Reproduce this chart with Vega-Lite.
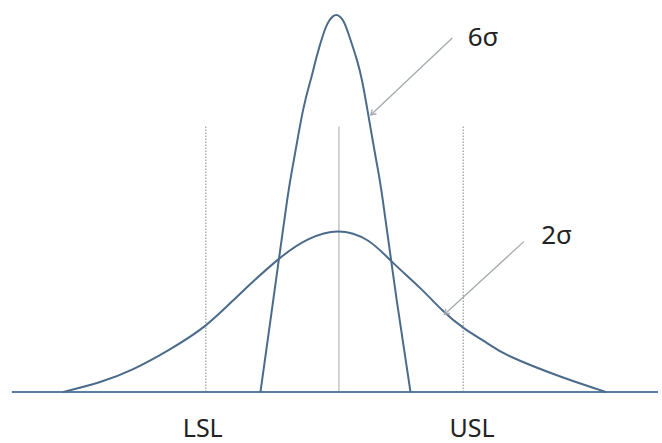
{
  "$schema": "https://vega.github.io/schema/vega-lite/v6.json",
  "width": 662,
  "height": 443,
  "autosize": {"type": "fit", "contains": "padding"},
  "padding": 0,
  "background": "white",
  "config": {"view": {"stroke": null}},
  "datasets": {
    "baseline": [{"x": -7.48, "y": 0}, {"x": 7.295, "y": 0}],
    "narrow": [
      {"curve": "6σ", "x": -1.795, "y": 0},
      {"curve": "6σ", "x": -1.5, "y": 0.246},
      {"curve": "6σ", "x": -1.182, "y": 0.511},
      {"curve": "6σ", "x": -1.03, "y": 0.616},
      {"curve": "6σ", "x": -0.818, "y": 0.749},
      {"curve": "6σ", "x": -0.636, "y": 0.832},
      {"curve": "6σ", "x": -0.52, "y": 0.885},
      {"curve": "6σ", "x": -0.364, "y": 0.947},
      {"curve": "6σ", "x": -0.227, "y": 0.984},
      {"curve": "6σ", "x": -0.06, "y": 1.0},
      {"curve": "6σ", "x": 0.1, "y": 0.984},
      {"curve": "6σ", "x": 0.227, "y": 0.947},
      {"curve": "6σ", "x": 0.41, "y": 0.881},
      {"curve": "6σ", "x": 0.53, "y": 0.825},
      {"curve": "6σ", "x": 0.65, "y": 0.749},
      {"curve": "6σ", "x": 0.85, "y": 0.616},
      {"curve": "6σ", "x": 1.0, "y": 0.511},
      {"curve": "6σ", "x": 1.318, "y": 0.246},
      {"curve": "6σ", "x": 1.636, "y": 0}
    ],
    "wide": [
      {"curve": "2σ", "x": -6.318, "y": 0},
      {"curve": "2σ", "x": -5.477, "y": 0.026},
      {"curve": "2σ", "x": -4.705, "y": 0.061},
      {"curve": "2σ", "x": -3.886, "y": 0.112},
      {"curve": "2σ", "x": -3.045, "y": 0.177},
      {"curve": "2σ", "x": -2.295, "y": 0.257},
      {"curve": "2σ", "x": -1.386, "y": 0.352},
      {"curve": "2σ", "x": -0.705, "y": 0.405},
      {"curve": "2σ", "x": -0.023, "y": 0.426},
      {"curve": "2σ", "x": 0.659, "y": 0.402},
      {"curve": "2σ", "x": 1.227, "y": 0.344},
      {"curve": "2σ", "x": 1.864, "y": 0.275},
      {"curve": "2σ", "x": 2.364, "y": 0.217},
      {"curve": "2σ", "x": 2.864, "y": 0.169},
      {"curve": "2σ", "x": 3.386, "y": 0.13},
      {"curve": "2σ", "x": 3.909, "y": 0.095},
      {"curve": "2σ", "x": 5.045, "y": 0.042},
      {"curve": "2σ", "x": 6.114, "y": 0}
    ],
    "limits": [
      {"name": "LSL", "x": -3.045, "y": 0, "y2": 0.704},
      {"name": "Target", "x": 0, "y": 0, "y2": 0.704},
      {"name": "USL", "x": 2.841, "y": 0, "y2": 0.704}
    ],
    "limitLabels": [
      {"label": "LSL", "x": -3.114, "y": -0.098},
      {"label": "USL", "x": 3.045, "y": -0.098}
    ],
    "notes": [
      {"label": "6σ", "x": 3.295, "y": 0.939},
      {"label": "2σ", "x": 4.977, "y": 0.413}
    ],
    "arrows": [
      {"label": "6σ", "end": "start", "x": 2.591, "y": 0.939},
      {"label": "6σ", "end": "tip", "x": 0.727, "y": 0.735},
      {"label": "2σ", "end": "start", "x": 4.227, "y": 0.399},
      {"label": "2σ", "end": "tip", "x": 2.409, "y": 0.206}
    ]
  },
  "encoding": {
    "x": {"field": "x", "type": "quantitative", "scale": {"domain": [-7.75, 7.295], "nice": false, "zero": false}, "axis": null},
    "y": {"field": "y", "type": "quantitative", "scale": {"domain": [-0.1323, 1.0397], "nice": false, "zero": false}, "axis": null}
  },
  "layer": [
    {
      "data": {"name": "limits"},
      "transform": [{"filter": "datum.name !== 'Target'"}],
      "mark": {"type": "rule", "color": "#9a9a9a", "strokeWidth": 1.2, "strokeDash": [1.5, 1.5]},
      "encoding": {"y2": {"field": "y2"}}
    },
    {
      "data": {"name": "limits"},
      "transform": [{"filter": "datum.name === 'Target'"}],
      "mark": {"type": "rule", "color": "#a8a8a8", "strokeWidth": 1},
      "encoding": {"y2": {"field": "y2"}}
    },
    {
      "data": {"name": "baseline"},
      "mark": {"type": "line", "color": "#5a7da3", "strokeWidth": 2},
      "encoding": {}
    },
    {
      "data": {"name": "wide"},
      "mark": {"type": "line", "color": "#4b6b8b", "strokeWidth": 2, "interpolate": "natural"},
      "encoding": {}
    },
    {
      "data": {"name": "narrow"},
      "mark": {"type": "line", "color": "#4b6b8b", "strokeWidth": 2, "interpolate": "natural"},
      "encoding": {}
    },
    {
      "data": {"name": "arrows"},
      "mark": {"type": "line", "color": "#a3a9ae", "strokeWidth": 1.3},
      "encoding": {"detail": {"field": "label"}}
    },
    {
      "data": {"name": "arrows"},
      "transform": [{"filter": "datum.end === 'tip'"}],
      "mark": {"type": "point", "shape": "M -0.55 0.9 L 0 0 L 0.55 0.9", "filled": false, "color": "#a3a9ae", "strokeWidth": 1.3, "size": 120, "angle": 227, "opacity": 1}
    },
    {
      "data": {"name": "limitLabels"},
      "mark": {"type": "text", "font": "Noto Sans", "fontSize": 25, "color": "#222222", "align": "center", "baseline": "middle"},
      "encoding": {"text": {"field": "label"}}
    },
    {
      "data": {"name": "notes"},
      "mark": {"type": "text", "font": "Noto Sans", "fontSize": 26, "color": "#222222", "align": "center", "baseline": "middle"},
      "encoding": {"text": {"field": "label"}}
    }
  ]
}
